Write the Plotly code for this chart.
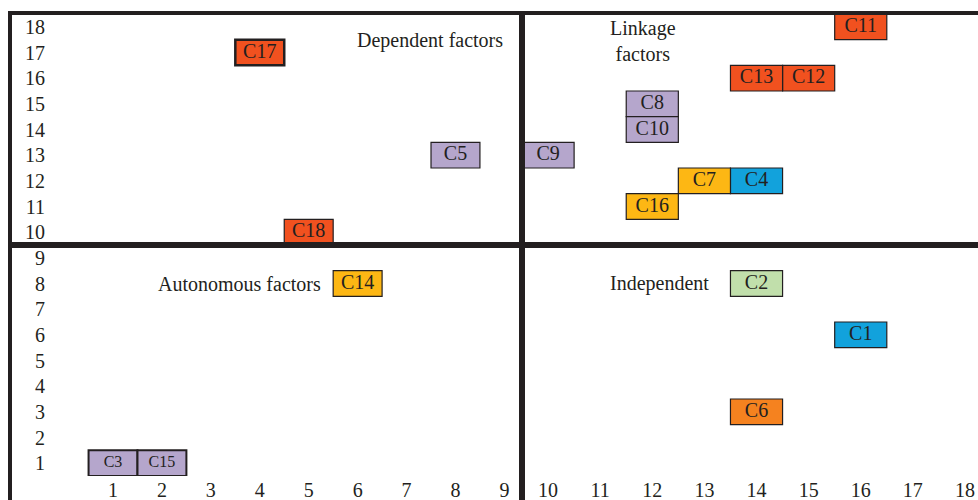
import plotly.graph_objects as go
from plotly.subplots import make_subplots

# ---------------- data ----------------
factors    = ["C1", "C2", "C3", "C4", "C5", "C6", "C7", "C8", "C9",
              "C10", "C11", "C12", "C13", "C14", "C15", "C16", "C17", "C18"]
dependence = [16, 14, 1, 14, 8, 14, 13, 12, 10, 12, 16, 15, 14, 6, 2, 12, 4, 5]
driving    = [6, 8, 1, 12, 13, 3, 12, 15, 13, 14, 18, 16, 16, 8, 1, 11, 17, 10]

dependence_ticks = list(range(1, 19))
driving_ticks = list(range(1, 19))

quadrant_names = ["Dependent factors", "Linkage<br>factors", "Autonomous factors", "Independent"]

# ---------------- style ----------------
RED, PURPLE, YELLOW, BLUE, GREEN, ORANGE = "#f1511f", "#b5a6cc", "#fdb714", "#12a2dc", "#c1dfab", "#f5821f"
factor_color = {"C1": BLUE, "C2": GREEN, "C3": PURPLE, "C4": BLUE, "C5": PURPLE, "C6": ORANGE,
                "C7": YELLOW, "C8": PURPLE, "C9": PURPLE, "C10": PURPLE, "C11": RED, "C12": RED,
                "C13": RED, "C14": YELLOW, "C15": PURPLE, "C16": YELLOW, "C17": RED, "C18": RED}
thick_border = {"C17": 2.5, "C3": 2, "C15": 2}
small_font = {"C3", "C15"}
INK = "#231f20"
FONT = "Liberation Serif"

W, H = 978, 500
ML, MR, MT, MB = 46, 0, 14, 24
PW, PH = W - ML - MR, H - MT - MB
SPLIT_PX = 522  # vertical divider pixel position


def px_x(p):
    return (p - ML) / PW


def px_y(p):
    return (H - MB - p) / PH


left_w = (SPLIT_PX - ML) / PW
fig = make_subplots(rows=1, cols=2, shared_yaxes=True, horizontal_spacing=0,
                    column_widths=[left_w, 1 - left_w])

for col, (lo, hi) in enumerate([(1, 9), (10, 18)], start=1):
    idx = [i for i, d in enumerate(dependence) if lo <= d <= hi]
    labs = [factors[i] for i in idx]
    xs = [dependence[i] for i in idx]
    ys = [driving[i] for i in idx]
    fig.add_trace(go.Bar(
        x=xs, y=[1] * len(xs), base=[v - 0.5 for v in ys], width=1,
        marker=dict(color=[factor_color[l] for l in labs],
                    line=dict(color=INK, width=[thick_border.get(l, 1.2) for l in labs])),
        hoverinfo="skip", showlegend=False), row=1, col=col)
    fig.add_trace(go.Scatter(
        x=xs, y=ys, mode="text", text=labs, cliponaxis=False,
        textfont=dict(family=FONT, color=INK, size=[16 if l in small_font else 20 for l in labs]),
        hoverinfo="skip", showlegend=False), row=1, col=col)

axis_font = dict(family=FONT, size=20, color=INK)
fig.update_xaxes(range=[-0.37, 9.36], row=1, col=1,
                 tickvals=[t for t in dependence_ticks if t <= 9],
                 ticktext=[str(t) for t in dependence_ticks if t <= 9])
fig.update_xaxes(range=[9.50, 18.25], row=1, col=2,
                 tickvals=[t for t in dependence_ticks if t >= 10],
                 ticktext=[str(t) for t in dependence_ticks if t >= 10])
fig.update_xaxes(showgrid=False, zeroline=False, showline=False, ticks="",
                 tickfont=axis_font, fixedrange=True, ticklabeloverflow="allow")
fig.update_yaxes(range=[0.5, 18.5], tickvals=driving_ticks, ticktext=[str(t) for t in driving_ticks],
                 showgrid=False, zeroline=False, showline=False, ticks="",
                 tickfont=axis_font, fixedrange=True)

shapes = [
    # outer top border
    dict(type="line", xref="paper", yref="paper", x0=px_x(8), x1=px_x(990), y0=px_y(13), y1=px_y(13),
         line=dict(color=INK, width=4)),
    # outer left border
    dict(type="line", xref="paper", yref="paper", x0=px_x(10), x1=px_x(10), y0=px_y(11), y1=px_y(510),
         line=dict(color=INK, width=4)),
    # vertical divider
    dict(type="line", xref="paper", yref="paper", x0=left_w, x1=left_w, y0=px_y(11), y1=px_y(510),
         line=dict(color=INK, width=6)),
    # horizontal divider
    dict(type="line", xref="paper", yref="y", x0=px_x(8), x1=px_x(990), y0=9.5, y1=9.5,
         line=dict(color=INK, width=6)),
]

qfont = dict(family=FONT, size=20, color=INK)
annotations = [
    dict(text=quadrant_names[0], xref="x", yref="y", x=9.02, y=17.45, xanchor="right",
         yanchor="middle", showarrow=False, font=qfont),
    dict(text=quadrant_names[1], xref="x2", yref="y", x=11.83, y=17.45, xanchor="center",
         yanchor="middle", showarrow=False, font=qfont),
    dict(text=quadrant_names[2], xref="x", yref="y", x=5.3, y=8, xanchor="right",
         yanchor="middle", showarrow=False, font=qfont),
    dict(text=quadrant_names[3], xref="x2", yref="y", x=12.13, y=8, xanchor="center",
         yanchor="middle", showarrow=False, font=qfont),
]

fig.update_layout(width=W, height=H, margin=dict(l=ML, r=MR, t=MT, b=MB),
                  plot_bgcolor="white", paper_bgcolor="white", barmode="overlay",
                  shapes=shapes, annotations=annotations, font=dict(family=FONT, color=INK))

fig.write_html("out.html", config={"displayModeBar": False},
               post_script="document.body.style.margin='0';document.body.style.overflow='hidden';")
